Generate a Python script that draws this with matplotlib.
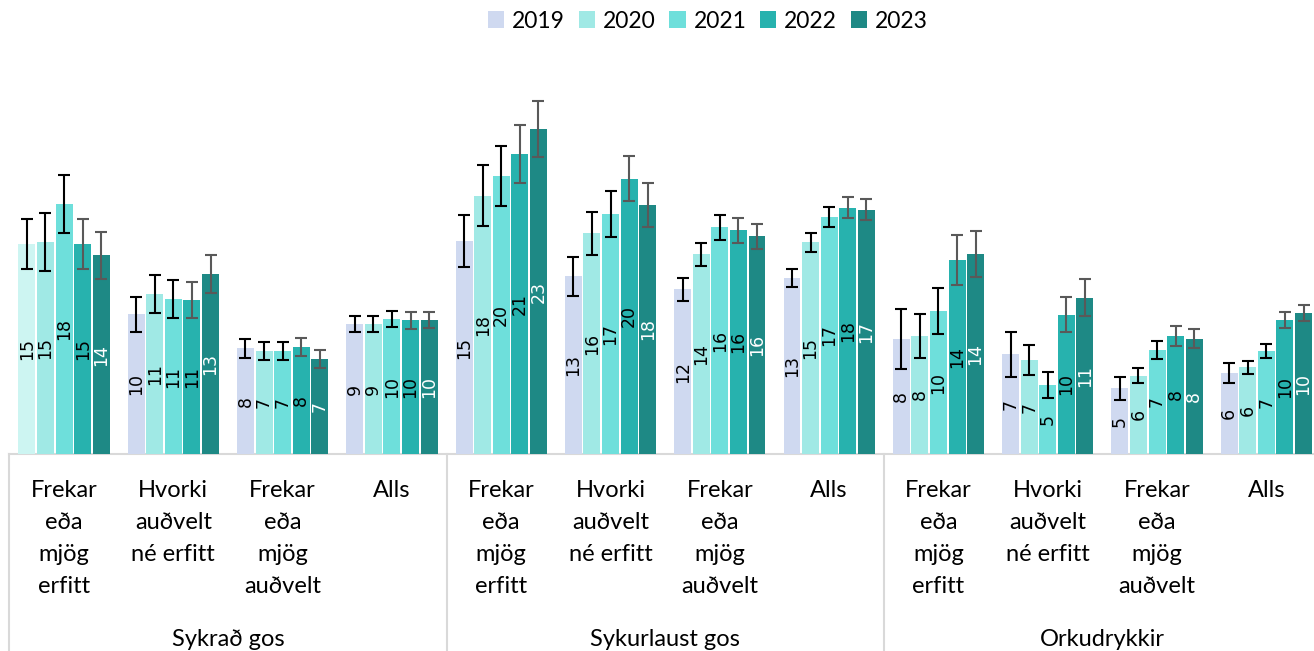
import matplotlib
matplotlib.use("Agg")
import matplotlib.pyplot as plt
import numpy as np
from matplotlib.patches import Patch
import matplotlib.transforms as mtransforms

# ---------------- data ----------------
years = ["2019", "2020", "2021", "2022", "2023"]
subcats = ["Frekar\neða\nmjög\nerfitt", "Hvorki\nauðvelt\nné erfitt",
           "Frekar\neða\nmjög\nauðvelt", "Alls"] * 3
groups = ["Sykrað gos", "Sykurlaust gos", "Orkudrykkir"]

v2019 = [15.0, 9.98, 7.55, 9.29, 15.21, 12.69, 11.76, 12.55, 8.21, 7.12, 4.69, 5.81]
v2020 = [15.14, 11.4, 7.36, 9.29, 18.45, 15.76, 14.26, 15.12, 8.43, 6.71, 5.6, 6.19]
v2021 = [17.86, 11.07, 7.36, 9.64, 19.88, 17.14, 16.19, 16.93, 10.21, 4.93, 7.43, 7.33]
v2022 = [15.0, 11.0, 7.64, 9.55, 21.45, 19.67, 15.98, 17.6, 13.86, 9.93, 8.43, 9.57]
v2023 = [14.19, 12.84, 6.81, 9.57, 23.19, 17.79, 15.55, 17.45, 14.31, 11.17, 8.24, 10.07]

e2019 = [1.82, 1.25, 0.69, 0.59, 1.87, 1.37, 0.81, 0.64, 2.12, 1.6, 0.8, 0.71]
e2020 = [2.04, 1.36, 0.62, 0.59, 2.18, 1.54, 0.83, 0.7, 1.55, 1.06, 0.56, 0.48]
e2021 = [2.06, 1.36, 0.62, 0.59, 2.14, 1.66, 0.87, 0.74, 1.63, 0.95, 0.62, 0.5]
e2022 = [1.81, 1.3, 0.66, 0.59, 2.08, 1.63, 0.9, 0.73, 1.76, 1.25, 0.68, 0.58]
e2023 = [1.68, 1.37, 0.64, 0.59, 2.0, 1.56, 0.9, 0.75, 1.65, 1.3, 0.69, 0.58]

values = [v2019, v2020, v2021, v2022, v2023]
errors = [e2019, e2020, e2021, e2022, e2023]

colors = ["#CFD9F0", "#A0E9E5", "#6EDFDB", "#27B2AE", "#1E8985"]
first_bar_color = "#CDF5F2"
err_colors = ["#000000", "#000000", "#000000", "#595959", "#595959"]
label_colors = ["black", "black", "black", "black", "white"]

TEXT_FONT = ["Lato", "DejaVu Sans"]

# ---------------- figure ----------------
W, H = 1314, 651
fig = plt.figure(figsize=(W / 100, H / 100), dpi=100)
ax_left = 9.4 / W
ax_w = 1311.6 / W
ax_bottom = (H - 454) / H
ax_h = 364 / H
ax = fig.add_axes([ax_left, ax_bottom, ax_w, ax_h])

x = np.arange(len(subcats))
pitch = 0.17
bw = 0.155
for i, (vals, errs) in enumerate(zip(values, errors)):
    off = (i - 2) * pitch
    cols = [colors[i]] * len(vals)
    if i == 0:
        cols[0] = first_bar_color
    bars = ax.bar(x + off, vals, width=bw, color=cols, linewidth=0, zorder=2)
    ax.errorbar(x + off, vals, yerr=errs, fmt="none", ecolor=err_colors[i],
                elinewidth=1.5, capsize=4.6, capthick=1.5, zorder=3)
    ax.bar_label(bars, fmt="%.0f", label_type="center", rotation=90,
                 color=label_colors[i], fontsize=12.5, family="DejaVu Sans",
                 zorder=4)

ax.set_xlim(-0.5, len(subcats) - 0.5)
ax.set_ylim(0, 26)
ax.set_yticks([])
for s in ["left", "right", "top"]:
    ax.spines[s].set_visible(False)
ax.spines["bottom"].set_color("#D9D9D9")
ax.spines["bottom"].set_linewidth(1.5)
ax.spines["bottom"].set_zorder(1)

ax.set_xticks(x)
ax.set_xticklabels(subcats, fontsize=17, family=TEXT_FONT, linespacing=1.64,
                   va="top")
ax.tick_params(axis="x", length=0, pad=19)

# group separators and labels
trans = mtransforms.blended_transform_factory(ax.transData, ax.transAxes)
for b in [-0.5, 3.5, 7.5, 11.5]:
    ax.plot([b, b], [0, -1.0], transform=trans, color="#D9D9D9", lw=1.5,
            clip_on=False, zorder=1)
for gi, g in enumerate(groups):
    ax.annotate(g, xy=(gi * 4 + 1.5, 0), xycoords=trans,
                xytext=(0, -133.5), textcoords="offset points",
                ha="center", va="center", fontsize=17, family=TEXT_FONT,
                annotation_clip=False)

# legend
handles = [Patch(facecolor=c, edgecolor="none") for c in colors]
fig.legend(handles, years, loc="center", bbox_to_anchor=(708 / W, 1 - 21 / H),
           ncol=5, frameon=False, prop={"family": TEXT_FONT, "size": 16.5},
           handlelength=0.7, handleheight=0.7, handletextpad=0.35,
           columnspacing=0.6)

fig.savefig("out.png", dpi=100)
